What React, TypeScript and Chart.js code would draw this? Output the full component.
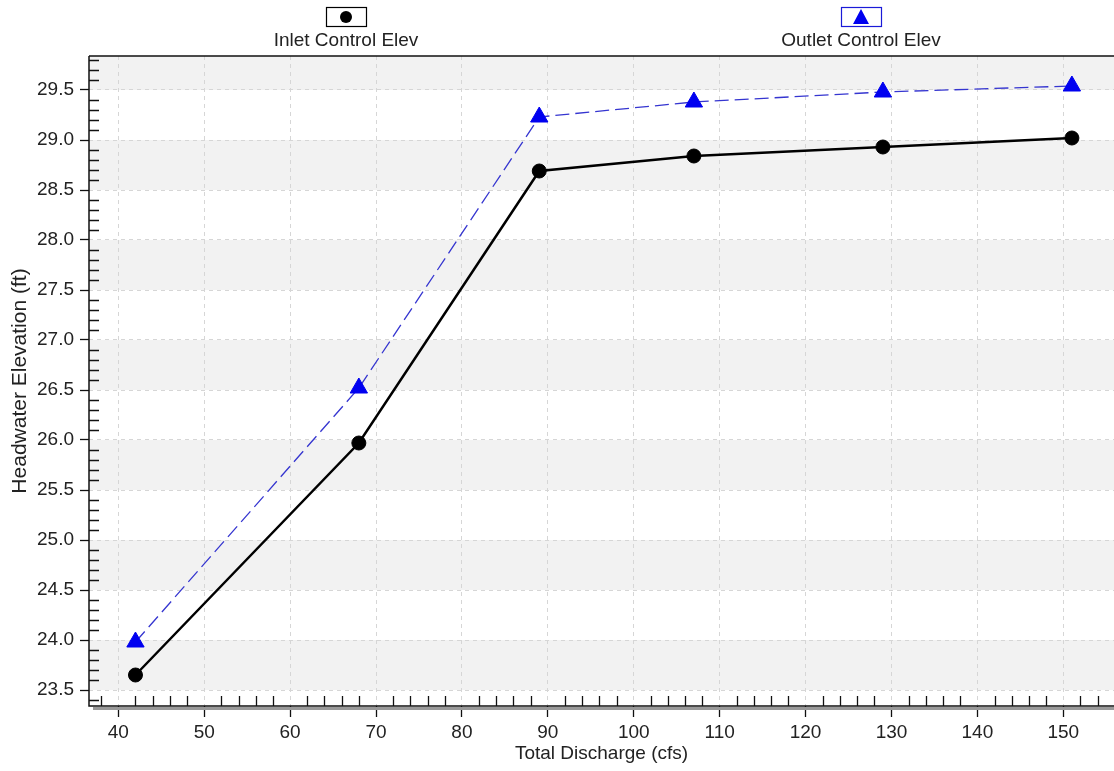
import React, { useEffect, useRef } from "react";
import { Chart, registerables } from "chart.js";

Chart.register(...registerables);

// ---- data ----
const discharge = [42, 68, 89, 107, 129, 151];
const inletElev = [23.65, 25.97, 28.69, 28.84, 28.93, 29.02];
const outletElev = [23.98, 26.52, 29.23, 29.38, 29.48, 29.54];
const seriesLabels = ["Inlet Control Elev", "Outlet Control Elev"];
const xTitle = "Total Discharge (cfs)";
const yTitle = "Headwater Elevation (ft)";
const xRange = [36.59, 155.9];
const yRange = [23.34, 29.84];
const xTickValues = [40, 50, 60, 70, 80, 90, 100, 110, 120, 130, 140, 150];
const yTickValues = [23.5, 24.0, 24.5, 25.0, 25.5, 26.0, 26.5, 27.0, 27.5, 28.0, 28.5, 29.0, 29.5];
const xMinorStep = 2;
const yMinorStep = 0.1;

const FONT = '"Liberation Sans", Arial, sans-serif';

const decorPlugin = {
  id: "decor",
  beforeDraw(chart: any) {
    const { ctx, chartArea } = chart;
    const y = chart.scales.y;
    ctx.save();
    ctx.fillStyle = "#f2f2f2";
    for (let i = 0; i < yTickValues.length; i += 2) {
      const lo = yTickValues[i];
      const hi = i + 1 < yTickValues.length ? yTickValues[i + 1] : yRange[1];
      const top = y.getPixelForValue(hi);
      const bot = y.getPixelForValue(lo);
      ctx.fillRect(chartArea.left, top, chartArea.right - chartArea.left, bot - top);
    }
    ctx.restore();
  },
  afterDraw(chart: any) {
    const { ctx, chartArea } = chart;
    const x = chart.scales.x;
    const y = chart.scales.y;
    ctx.save();
    // shadow under the x axis
    ctx.fillStyle = "#999";
    ctx.fillRect(chartArea.left + 4, chartArea.bottom + 1, chartArea.right - chartArea.left, 3);
    // axis lines
    ctx.strokeStyle = "#111";
    ctx.lineWidth = 1.5;
    ctx.beginPath();
    ctx.moveTo(chartArea.left, chartArea.top);
    ctx.lineTo(chartArea.right, chartArea.top);
    ctx.moveTo(chartArea.left, chartArea.top);
    ctx.lineTo(chartArea.left, chartArea.bottom);
    ctx.lineTo(chartArea.right, chartArea.bottom);
    ctx.stroke();
    // minor ticks, drawn inward
    ctx.lineWidth = 1.3;
    ctx.beginPath();
    for (let k = Math.ceil(yRange[0] / yMinorStep); k <= Math.floor(yRange[1] / yMinorStep); k++) {
      if (k % 5 === 0) continue;
      const py = Math.round(y.getPixelForValue(k * yMinorStep)) + 0.5;
      ctx.moveTo(chartArea.left, py);
      ctx.lineTo(chartArea.left + 10, py);
    }
    for (let k = Math.ceil(xRange[0] / xMinorStep); k <= Math.floor(xRange[1] / xMinorStep); k++) {
      if (k % 5 === 0) continue;
      const px = Math.round(x.getPixelForValue(k * xMinorStep)) + 0.5;
      ctx.moveTo(px, chartArea.bottom);
      ctx.lineTo(px, chartArea.bottom - 10);
    }
    ctx.stroke();

    // legend: boxed marker above each label
    const centers = [346, 861];
    chart.data.datasets.forEach((ds: any, i: number) => {
      const cx = centers[i];
      ctx.lineWidth = 1.2;
      ctx.strokeStyle = i === 0 ? "#000" : "#1a1ad8";
      ctx.strokeRect(cx - 20 + 0.5, 7.5, 40, 19);
      ctx.fillStyle = ds.pointBackgroundColor;
      ctx.beginPath();
      if (ds.pointStyle === "triangle") {
        ctx.moveTo(cx, 9);
        ctx.lineTo(cx + 8, 24);
        ctx.lineTo(cx - 8, 24);
        ctx.closePath();
      } else {
        ctx.arc(cx, 17, 6, 0, Math.PI * 2);
      }
      ctx.fill();
      ctx.fillStyle = "#222";
      ctx.font = `19px ${FONT}`;
      ctx.textAlign = "center";
      ctx.textBaseline = "middle";
      ctx.fillText(ds.label, cx, 41);
    });
    ctx.restore();
  },
};

export default function App() {
  const ref = useRef<HTMLCanvasElement>(null);
  useEffect(() => {
    document.body.style.margin = "0";
    const chart = new Chart(ref.current!, {
      type: "line",
      data: {
        datasets: [
          {
            label: seriesLabels[0],
            data: discharge.map((d, i) => ({ x: d, y: inletElev[i] })),
            borderColor: "#000",
            borderWidth: 2.5,
            pointStyle: "circle",
            pointRadius: 7,
            pointBackgroundColor: "#000",
            pointBorderColor: "#000",
            pointBorderWidth: 1,
            tension: 0,
          },
          {
            label: seriesLabels[1],
            data: discharge.map((d, i) => ({ x: d, y: outletElev[i] })),
            borderColor: "#3535d0",
            borderWidth: 1.3,
            borderDash: [14, 6],
            pointStyle: "triangle",
            pointRadius: 10,
            pointBackgroundColor: "#0000f0",
            pointBorderColor: "#0000f0",
            pointBorderWidth: 1,
            tension: 0,
          },
        ],
      },
      options: {
        responsive: false,
        animation: false,
        layout: { autoPadding: false, padding: { top: 56, left: 0, right: 0, bottom: 0 } },
        plugins: { legend: { display: false }, tooltip: { enabled: false } },
        scales: {
          x: {
            type: "linear",
            min: xRange[0],
            max: xRange[1],
            afterBuildTicks: (s: any) => {
              s.ticks = xTickValues.map((v) => ({ value: v }));
            },
            afterFit: (s: any) => {
              s.height = 65;
            },
            ticks: {
              color: "#222",
              font: { family: FONT, size: 19 },
              padding: 4,
              maxRotation: 0,
            },
            grid: {
              color: "#d6d6d6",
              tickColor: "#111",
              tickLength: 11,
              tickWidth: 1.3,
              lineWidth: 1,
            },
            border: { display: false, dash: [4, 4] },
            title: {
              display: true,
              text: xTitle,
              color: "#222",
              font: { family: FONT, size: 19 },
              padding: { top: 0, bottom: 6 },
            },
          },
          y: {
            type: "linear",
            min: yRange[0],
            max: yRange[1],
            afterBuildTicks: (s: any) => {
              s.ticks = yTickValues.map((v) => ({ value: v }));
            },
            afterFit: (s: any) => {
              s.width = 89;
            },
            ticks: {
              color: "#222",
              font: { family: FONT, size: 19 },
              padding: 6,
              callback: (v: any) => Number(v).toFixed(1),
            },
            grid: {
              color: "#d6d6d6",
              tickColor: "#111",
              tickLength: 9,
              tickWidth: 1.3,
              lineWidth: 1,
            },
            border: { display: false, dash: [4, 4] },
            title: {
              display: true,
              text: yTitle,
              color: "#222",
              font: { family: FONT, size: 21 },
              padding: { top: 8, bottom: 0 },
            },
          },
        },
      },
      plugins: [decorPlugin],
    });
    return () => chart.destroy();
  }, []);
  return (
    <div style={{ position: "absolute", left: 0, top: 0, width: 1114, height: 771 }}>
      <canvas ref={ref} width={1114} height={771} style={{ display: "block" }} />
    </div>
  );
}
